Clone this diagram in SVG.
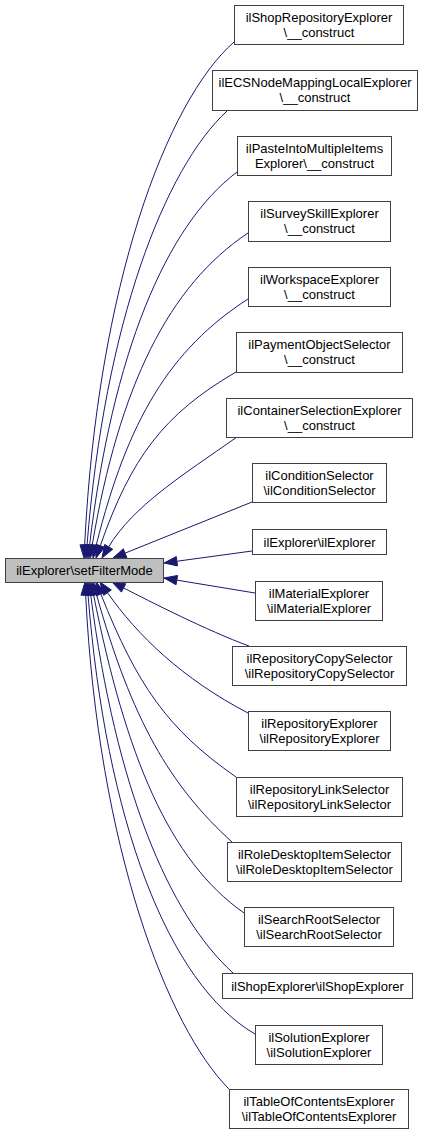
<svg xmlns="http://www.w3.org/2000/svg" width="432" height="1136" viewBox="0 0 432 1136">
<style>
  .n rect { fill: #ffffff; stroke: #404040; stroke-width: 1; }
  .main rect { fill: #bfbfbf; stroke: #404040; stroke-width: 1; }
  text { font-family: "Liberation Sans", Arial, Helvetica, sans-serif; font-size: 13px; fill: #000000; text-anchor: middle; }
  .e path { fill: none; stroke: #191970; stroke-width: 1; }
  .e polygon { fill: #191970; stroke: #191970; stroke-width: 1; }
</style>
<rect x="0" y="0" width="432" height="1136" fill="#ffffff"/>
<g id="connectors" class="e">
  <path d="M234,42 C166.5,101.4 97.65,285.3 84.65,545"/>
  <polygon points="84,558 79.96,544.77 89.34,545.24"/>
  <path d="M227,111 C164.9,168.4 104.8,322.2 87.04,545.04"/>
  <polygon points="86,558 82.36,544.67 91.72,545.41"/>
  <path d="M237,172 C165.7,225.9 112.5,353.5 89.55,545.09"/>
  <polygon points="88,558 84.88,544.53 94.22,545.65"/>
  <path d="M248,233 C169.1,285.6 119.4,385 92.18,545.18"/>
  <polygon points="90,558 87.55,544.39 96.81,545.97"/>
  <path d="M248,299 C169.9,349.5 127.6,419.8 96.15,545.39"/>
  <polygon points="93,558 91.59,544.25 100.71,546.53"/>
  <path d="M236,372 C163.4,414.3 131,457.9 100.29,545.73"/>
  <polygon points="96,558 95.85,544.18 104.73,547.28"/>
  <path d="M237,437 C182.2,475.5 133.4,505.7 108.69,546.85"/>
  <polygon points="102,558 104.66,544.43 112.72,549.27"/>
  <path d="M252,502 L125.06,553.14"/>
  <polygon points="113,558 123.3,548.78 126.82,557.5"/>
  <path d="M252,551 L176.88,561.24"/>
  <polygon points="164,563 176.25,556.58 177.51,565.9"/>
  <path d="M255,593 L176.83,580.11"/>
  <polygon points="164,578 177.59,575.47 176.07,584.75"/>
  <path d="M249,646 C206.7,630.5 150.3,601.6 123.57,587.93"/>
  <polygon points="112,582 125.71,583.75 121.43,592.11"/>
  <path d="M248,713 C182.4,678.8 137.3,635.3 107.46,592.65"/>
  <polygon points="100,582 111.31,589.95 103.61,595.35"/>
  <path d="M236,777 C167,729 137,684.6 100.83,594.07"/>
  <polygon points="96,582 105.19,592.32 96.47,595.82"/>
  <path d="M232,842 C170.2,786 131.5,719.7 96.5,594.52"/>
  <polygon points="93,582 101.03,593.25 91.97,595.79"/>
  <path d="M244,913 C168.9,860.1 126,757 93.55,594.75"/>
  <polygon points="91,582 98.16,593.83 88.94,595.67"/>
  <path d="M233,973 C169.1,914.9 115.9,788.8 90.68,594.89"/>
  <polygon points="89,582 95.34,594.28 86.02,595.5"/>
  <path d="M255,1034 C167.8,983.3 106,820.3 88.04,594.96"/>
  <polygon points="87,582 92.72,594.59 83.36,595.33"/>
  <path d="M229,1089 C167.9,1027.9 98.3,848.2 85.65,594.98"/>
  <polygon points="85,582 90.34,594.75 80.96,595.21"/>
</g>
<g id="node_main" class="main"><rect x="5.5" y="558.5" width="158" height="24"/><text x="84.5" y="575">ilExplorer\setFilterMode</text></g>
<g id="node1" class="n"><rect x="234.5" y="5.5" width="169" height="39"/><text x="319" y="22">ilShopRepositoryExplorer</text><text x="319" y="37">\__construct</text></g>
<g id="node2" class="n"><rect x="212.5" y="70.5" width="205" height="40"/><text x="315" y="87">ilECSNodeMappingLocalExplorer</text><text x="315" y="102">\__construct</text></g>
<g id="node3" class="n"><rect x="237.5" y="136.5" width="154" height="39"/><text x="314.5" y="153">ilPasteIntoMultipleItems</text><text x="314.5" y="168">Explorer\__construct</text></g>
<g id="node4" class="n"><rect x="248.5" y="201.5" width="142" height="40"/><text x="319.5" y="218">ilSurveySkillExplorer</text><text x="319.5" y="233">\__construct</text></g>
<g id="node5" class="n"><rect x="248.5" y="267.5" width="142" height="39"/><text x="319.5" y="284">ilWorkspaceExplorer</text><text x="319.5" y="299">\__construct</text></g>
<g id="node6" class="n"><rect x="236.5" y="332.5" width="166" height="40"/><text x="319.5" y="349">ilPaymentObjectSelector</text><text x="319.5" y="364">\__construct</text></g>
<g id="node7" class="n"><rect x="226.5" y="398.5" width="186" height="39"/><text x="319.5" y="415">ilContainerSelectionExplorer</text><text x="319.5" y="430">\__construct</text></g>
<g id="node8" class="n"><rect x="252.5" y="463.5" width="134" height="39"/><text x="319.5" y="480">ilConditionSelector</text><text x="319.5" y="495">\ilConditionSelector</text></g>
<g id="node9" class="n"><rect x="252.5" y="529.5" width="134" height="25"/><text x="319.5" y="546.5">ilExplorer\ilExplorer</text></g>
<g id="node10" class="n"><rect x="255.5" y="581.5" width="127" height="39"/><text x="319" y="598">ilMaterialExplorer</text><text x="319" y="613">\ilMaterialExplorer</text></g>
<g id="node11" class="n"><rect x="232.5" y="646.5" width="174" height="39"/><text x="319.5" y="663">ilRepositoryCopySelector</text><text x="319.5" y="678">\ilRepositoryCopySelector</text></g>
<g id="node12" class="n"><rect x="248.5" y="711.5" width="142" height="39"/><text x="319.5" y="728">ilRepositoryExplorer</text><text x="319.5" y="743">\ilRepositoryExplorer</text></g>
<g id="node13" class="n"><rect x="236.5" y="777.5" width="166" height="39"/><text x="319.5" y="794">ilRepositoryLinkSelector</text><text x="319.5" y="809">\ilRepositoryLinkSelector</text></g>
<g id="node14" class="n"><rect x="227.5" y="842.5" width="174" height="39"/><text x="314.5" y="859">ilRoleDesktopItemSelector</text><text x="314.5" y="874">\ilRoleDesktopItemSelector</text></g>
<g id="node15" class="n"><rect x="244.5" y="907.5" width="149" height="39"/><text x="319" y="924">ilSearchRootSelector</text><text x="319" y="939">\ilSearchRootSelector</text></g>
<g id="node16" class="n"><rect x="222.5" y="973.5" width="190" height="25"/><text x="317.5" y="990.5">ilShopExplorer\ilShopExplorer</text></g>
<g id="node17" class="n"><rect x="255.5" y="1025.5" width="127" height="39"/><text x="319" y="1042">ilSolutionExplorer</text><text x="319" y="1057">\ilSolutionExplorer</text></g>
<g id="node18" class="n"><rect x="229.5" y="1089.5" width="179" height="39"/><text x="319" y="1106">ilTableOfContentsExplorer</text><text x="319" y="1121">\ilTableOfContentsExplorer</text></g>
</svg>
